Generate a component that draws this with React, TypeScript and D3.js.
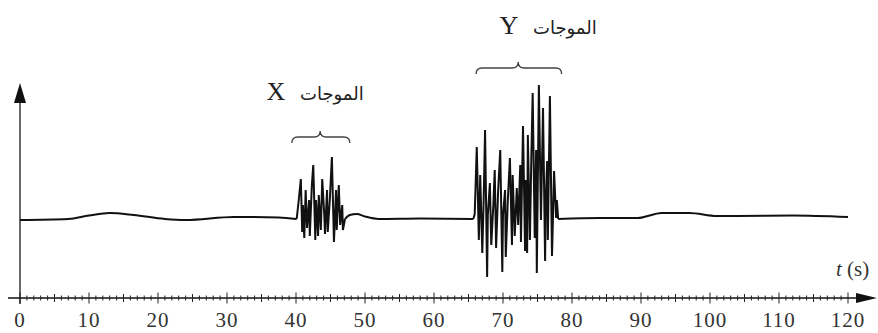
import React, { useEffect, useRef } from "react";
import * as d3 from "d3";

type Pt = [number, number];

// t (s), amplitude
const quietStart: Pt[] = [
  [0, -1], [7, 0], [10, 3.5], [13, 6], [16.5, 4], [21, 0], [24, -1],
  [31, 2], [37.5, 1.5], [40.1, 0],
];

const burstX: Pt[] = [
  [40.1, 0], [40.4, 19], [40.7, 40], [40.9, -13], [41.0, 14], [41.2, -19],
  [41.4, 29], [41.6, -9], [41.9, 19], [42.0, -17], [42.3, 34], [42.5, 54],
  [42.8, -21], [42.9, 19], [43.2, -17], [43.3, 24], [43.6, -11], [43.8, 40],
  [44.1, 4], [44.2, -15], [44.5, 29], [44.6, -13], [44.9, 19], [45.2, 62],
  [45.5, -23], [45.8, 29], [45.9, -11], [46.2, 34], [46.4, -6], [46.7, 14],
  [46.8, -11], [47.1, 0],
];

const quietMid: Pt[] = [
  [47.1, 0], [47.8, 4], [48.8, 5], [50, 2.5], [52, 0], [58, 0.5], [65.7, 0],
];

const burstY: Pt[] = [
  [65.7, 0], [65.9, 5], [66.2, 72], [66.5, -21], [66.7, 44], [67.0, -34],
  [67.2, 19], [67.4, 89], [67.7, -58], [67.8, 4], [68.1, 36], [68.3, -26],
  [68.6, 14], [68.8, 49], [69.0, -29], [69.3, 29], [69.6, 69], [69.9, -53],
  [70.0, 4], [70.3, 29], [70.4, -38], [70.7, 19], [71.0, 61], [71.3, -26],
  [71.4, 44], [71.7, -17], [72.0, 31], [72.2, -6], [72.5, 54], [72.6, -23],
  [72.9, 93], [73.2, -32], [73.3, 39], [73.5, -34], [73.6, 84], [73.9, -21],
  [74.1, 59], [74.3, 126], [74.6, -19], [74.8, 69], [74.9, -54], [75.2, 134],
  [75.5, -1], [75.8, 111], [76.1, -42], [76.2, 19], [76.4, 58], [76.5, -21],
  [76.8, 123], [77.1, -37], [77.2, -11], [77.4, 48], [77.7, 1], [77.8, 19],
  [78.0, 0],
];

const quietEnd: Pt[] = [
  [78, 0], [84, 1], [89.5, 1], [93, 6], [97, 6], [101, 3], [104, 3],
  [112, 3.5], [120, 2],
];

const tickLabels = [0, 10, 20, 30, 40, 50, 60, 70, 80, 90, 100, 110, 120];
const waveWord = "الموجات";
const waveNames = ["X", "Y"];

const W = 878;
const H = 333;

export default function App() {
  const ref = useRef<SVGSVGElement>(null);

  useEffect(() => {
    const svg = d3.select(ref.current);
    svg.selectAll("*").remove();

    const x = d3.scaleLinear().domain([0, 120]).range([20, 848]);
    const y = d3.scaleLinear().domain([-60, 140]).range([279, 79]);
    const axisY = 298;

    svg.append("rect").attr("width", W).attr("height", H).attr("fill", "#fff");

    // vertical axis
    svg
      .append("line")
      .attr("x1", 20)
      .attr("x2", 20)
      .attr("y1", 304)
      .attr("y2", 100)
      .attr("stroke", "#6a6a6a")
      .attr("stroke-width", 2);
    svg.append("path").attr("d", "M20,83 L14,103 L26,103 Z").attr("fill", "#111");

    // horizontal axis
    svg
      .append("line")
      .attr("x1", 8)
      .attr("x2", 860)
      .attr("y1", axisY)
      .attr("y2", axisY)
      .attr("stroke", "#111")
      .attr("stroke-width", 1.4);
    svg
      .append("path")
      .attr("d", `M877,${axisY} L856,${axisY - 5} L856,${axisY + 5} Z`)
      .attr("fill", "#111");

    const ticks = svg.append("g").attr("stroke", "#222").attr("stroke-width", 1);
    d3.range(0, 121).forEach((v) => {
      const h = v % 10 === 0 ? 5.5 : v % 5 === 0 ? 4 : 2.5;
      ticks
        .append("line")
        .attr("x1", x(v))
        .attr("x2", x(v))
        .attr("y1", axisY - h)
        .attr("y2", axisY + h);
    });

    svg
      .append("g")
      .selectAll("text")
      .data(tickLabels)
      .join("text")
      .attr("x", (d) => x(d))
      .attr("y", 327)
      .attr("text-anchor", "middle")
      .attr("font-family", "Liberation Serif")
      .attr("font-size", 21)
      .attr("letter-spacing", 1)
      .attr("fill", "#333")
      .text((d) => d);

    const tl = svg
      .append("text")
      .attr("x", 836)
      .attr("y", 276)
      .attr("font-family", "Liberation Serif")
      .attr("font-size", 21)
      .attr("fill", "#333");
    tl.append("tspan").attr("font-style", "italic").text("t");
    tl.append("tspan").text(" (s)");

    // signal
    const line = d3
      .line<Pt>()
      .x((d) => x(d[0]))
      .y((d) => y(d[1]));
    [quietStart, quietMid, quietEnd].forEach((seg) => {
      svg
        .append("path")
        .attr("d", line.curve(d3.curveMonotoneX)(seg))
        .attr("fill", "none")
        .attr("stroke", "#111")
        .attr("stroke-width", 2);
    });
    [burstX, burstY].forEach((seg) => {
      svg
        .append("path")
        .attr("d", line.curve(d3.curveLinear)(seg))
        .attr("fill", "none")
        .attr("stroke", "#111")
        .attr("stroke-width", 2)
        .attr("stroke-linejoin", "miter");
    });

    // braces + labels
    const brace = (x1: number, x2: number, xm: number, yt: number) => {
      const ym = yt + 6;
      const yb = yt + 12;
      const r = 6;
      return `M${x1},${yb} Q${x1},${ym} ${x1 + r},${ym} L${xm - r},${ym} Q${xm},${ym} ${xm},${yt} Q${xm},${ym} ${xm + r},${ym} L${x2 - r},${ym} Q${x2},${ym} ${x2},${yb}`;
    };
    const groups = [
      { x1: x(39.4), x2: x(47.8), xm: x(43.5), yt: 131, lx: 276, ly: 100 },
      { x1: x(66.1), x2: x(78.5), xm: x(72.2), yt: 62, lx: 509, ly: 34 },
    ];
    groups.forEach((g, i) => {
      svg
        .append("path")
        .attr("d", brace(g.x1, g.x2, g.xm, g.yt))
        .attr("fill", "none")
        .attr("stroke", "#444")
        .attr("stroke-width", 1.3);
      svg
        .append("text")
        .attr("x", g.lx)
        .attr("y", g.ly)
        .attr("text-anchor", "middle")
        .attr("font-family", "Liberation Serif")
        .attr("font-size", 26)
        .attr("fill", "#222")
        .text(waveNames[i]);
      svg
        .append("text")
        .attr("x", g.lx + 24)
        .attr("y", g.ly)
        .attr("text-anchor", "start")
        .attr("direction", "ltr")
        .attr("font-family", "DejaVu Sans")
        .attr("font-size", 18)
        .attr("fill", "#222")
        .text(waveWord);
    });
  }, []);

  return (
    <svg
      ref={ref}
      width={W}
      height={H}
      style={{ position: "absolute", left: 0, top: 0 }}
    />
  );
}
